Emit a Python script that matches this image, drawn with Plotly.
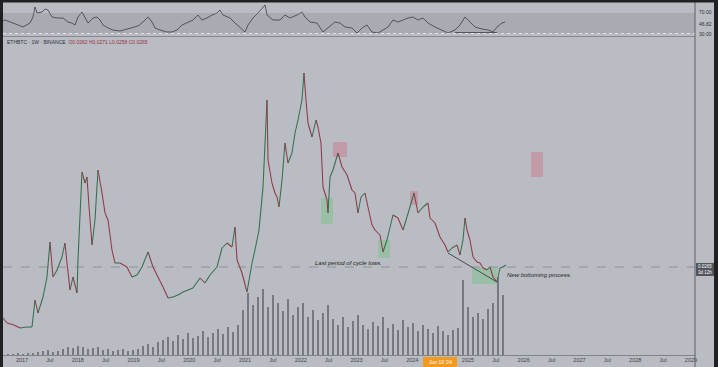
import plotly.graph_objects as go

# ---------------- data ----------------
price_years = [2016.659, 2016.731, 2016.857, 2016.964, 2017.090, 2017.179, 2017.233, 2017.287, 2017.377, 2017.448,
               2017.502, 2017.556, 2017.628, 2017.717, 2017.771, 2017.807, 2017.861, 2017.915, 2017.987, 2018.004,
               2018.076, 2018.130, 2018.166, 2018.202, 2018.256, 2018.309, 2018.363, 2018.435, 2018.489, 2018.543,
               2018.614, 2018.668, 2018.758, 2018.883, 2018.973, 2019.063, 2019.152, 2019.260, 2019.350, 2019.439,
               2019.529, 2019.619, 2019.709, 2019.798, 2019.888, 2019.978, 2020.067, 2020.193, 2020.283, 2020.372,
               2020.498, 2020.587, 2020.677, 2020.767, 2020.821, 2020.857, 2020.946, 2021.036, 2021.126, 2021.179,
               2021.251, 2021.323, 2021.395, 2021.413, 2021.484, 2021.538, 2021.574, 2021.610, 2021.664, 2021.717,
               2021.771, 2021.843, 2021.897, 2021.951, 2022.022, 2022.058, 2022.094, 2022.130, 2022.202, 2022.274,
               2022.309, 2022.363, 2022.399, 2022.471, 2022.489, 2022.525, 2022.578, 2022.668, 2022.740, 2022.830,
               2022.919, 2022.973, 2023.027, 2023.081, 2023.152, 2023.206, 2023.278, 2023.332, 2023.421, 2023.475,
               2023.547, 2023.655, 2023.744, 2023.834, 2023.906, 2023.995, 2024.031, 2024.103, 2024.193, 2024.282,
               2024.318, 2024.408, 2024.498, 2024.587, 2024.641, 2024.713, 2024.803, 2024.856, 2024.910, 2024.946,
               2024.982, 2025.036, 2025.090, 2025.161, 2025.215, 2025.269, 2025.341, 2025.395, 2025.448, 2025.520,
               2025.574, 2025.628, 2025.681]
price_close = [0.0111, 0.0096, 0.0090, 0.0081, 0.0084, 0.0084, 0.0165, 0.0126, 0.0174, 0.0234,
               0.0339, 0.0234, 0.0255, 0.0294, 0.0336, 0.0276, 0.0195, 0.0234, 0.0186, 0.0285,
               0.0549, 0.0516, 0.0534, 0.0444, 0.0330, 0.0405, 0.0555, 0.0486, 0.0426, 0.0405,
               0.0315, 0.0276, 0.0276, 0.0264, 0.0234, 0.0240, 0.0264, 0.0309, 0.0264, 0.0234,
               0.0204, 0.0171, 0.0174, 0.0180, 0.0189, 0.0195, 0.0201, 0.0231, 0.0216, 0.0240,
               0.0264, 0.0321, 0.0336, 0.0324, 0.0384, 0.0285, 0.0246, 0.0189, 0.0276, 0.0315,
               0.0375, 0.0504, 0.0765, 0.0585, 0.0516, 0.0486, 0.0474, 0.0444, 0.0525, 0.0636,
               0.0576, 0.0606, 0.0666, 0.0705, 0.0765, 0.0846, 0.0765, 0.0696, 0.0654, 0.0705,
               0.0684, 0.0636, 0.0504, 0.0465, 0.0426, 0.0534, 0.0555, 0.0606, 0.0564, 0.0540,
               0.0495, 0.0486, 0.0426, 0.0474, 0.0486, 0.0444, 0.0390, 0.0375, 0.0360, 0.0309,
               0.0345, 0.0420, 0.0411, 0.0375, 0.0414, 0.0465, 0.0486, 0.0426, 0.0444, 0.0456,
               0.0411, 0.0396, 0.0354, 0.0330, 0.0309, 0.0321, 0.0330, 0.0300, 0.0345, 0.0411,
               0.0375, 0.0345, 0.0294, 0.0279, 0.0276, 0.0261, 0.0255, 0.0264, 0.0234, 0.0219,
               0.0261, 0.0264, 0.0270]

rsi_years = [2016.659, 2016.695, 2016.839, 2017.018, 2017.143, 2017.197, 2017.233, 2017.269, 2017.359, 2017.413,
             2017.466, 2017.538, 2017.628, 2017.735, 2017.825, 2017.897, 2017.951, 2018.004, 2018.076, 2018.130,
             2018.184, 2018.274, 2018.345, 2018.399, 2018.453, 2018.543, 2018.632, 2018.758, 2018.883, 2018.991,
             2019.081, 2019.170, 2019.260, 2019.332, 2019.386, 2019.475, 2019.601, 2019.691, 2019.780, 2019.870,
             2019.960, 2020.067, 2020.157, 2020.229, 2020.318, 2020.408, 2020.498, 2020.552, 2020.605, 2020.731,
             2020.821, 2020.910, 2021.000, 2021.054, 2021.143, 2021.233, 2021.359, 2021.395, 2021.502, 2021.628,
             2021.717, 2021.807, 2021.933, 2022.022, 2022.076, 2022.166, 2022.291, 2022.399, 2022.489, 2022.614,
             2022.704, 2022.794, 2022.919, 2023.009, 2023.099, 2023.188, 2023.278, 2023.386, 2023.475, 2023.565,
             2023.655, 2023.744, 2023.834, 2023.924, 2024.013, 2024.103, 2024.193, 2024.282, 2024.408, 2024.534,
             2024.641, 2024.767, 2024.856, 2024.946, 2025.036, 2025.126, 2025.251, 2025.359, 2025.448, 2025.520,
             2025.610, 2025.664]
rsi_values = [55, 57, 51, 43, 51, 63, 83, 71, 73, 79,
              77, 63, 61, 61, 53, 51, 47, 63, 73, 61,
              51, 61, 63, 57, 47, 41, 37, 35, 39, 41,
              45, 53, 63, 53, 41, 37, 33, 33, 37, 47,
              51, 57, 67, 57, 61, 67, 71, 77, 67, 61,
              51, 41, 33, 47, 61, 71, 87, 67, 57, 57,
              67, 61, 67, 73, 63, 53, 51, 33, 41, 53,
              51, 43, 41, 31, 41, 47, 33, 31, 37, 43,
              57, 53, 57, 61, 63, 57, 61, 51, 43, 37,
              31, 37, 47, 63, 53, 43, 39, 37, 33, 43,
              51, 53]

vol_start_year = 2016.749          # first weekly-group bar
vol_step_year = 0.0897             # spacing between volume bars
volume_k = [1, 1, 2, 1, 2, 2, 3, 4, 5, 3,
            4, 6, 8, 7, 9, 8, 6, 7, 8, 5,
            6, 4, 5, 6, 4, 5, 6, 9, 11, 8,
            13, 15, 18, 14, 20, 16, 22, 17, 19, 24,
            18, 22, 26, 21, 28, 23, 30, 45, 62, 50,
            58, 66, 48, 60, 52, 44, 56, 40, 48, 52,
            38, 45, 35, 42, 50, 36, 30, 38, 28, 34,
            40, 30, 26, 33, 29, 38, 27, 31, 25, 35,
            28, 32, 24, 30, 26, 22, 29, 24, 20, 25,
            27, 75, 48, 38, 42, 36, 46, 52, 78, 60]

tick_vals = [2017, 2017.5, 2018, 2018.5, 2019, 2019.5, 2020, 2020.5, 2021, 2021.5, 2022, 2022.5,
             2023, 2023.5, 2024, 2025, 2025.5, 2026, 2026.5, 2027, 2027.5, 2028, 2028.5, 2029]
tick_text = ["2017", "Jul", "2018", "Jul", "2019", "Jul", "2020", "Jul", "2021", "Jul", "2022", "Jul",
             "2023", "Jul", "2024", "2025", "Jul", "2026", "Jul", "2027", "Jul", "2028", "Jul", "2029"]

# boxes: (x0, x1, y0, y1, kind)
boxes = [(2022.578, 2022.830, 0.0594, 0.0639, "red"),
         (2022.363, 2022.578, 0.0393, 0.0471, "green"),
         (2023.386, 2023.601, 0.0291, 0.0345, "green"),
         (2023.960, 2024.103, 0.0450, 0.0492, "red"),
         (2025.072, 2025.520, 0.0213, 0.0261, "green"),
         (2026.130, 2026.345, 0.0534, 0.0609, "red")]
trend_line = ([2024.641, 2025.520], [0.0306, 0.0219])
level_price = 0.0264
notes = [(2022.220, 0.0276, "Last period of cycle lows."),
         (2025.664, 0.0240, "New bottoming process.")]

# ---------------- figure ----------------
W, H = 718, 367
BG = "#b9bcc2"
XR = [2016.659, 2029.072]
XD = [3 / W, 695 / W]

fig = go.Figure()

# price line, coloured by direction
up_x, up_y, dn_x, dn_y = [], [], [], []
for i in range(1, len(price_close)):
    seg_x = [price_years[i - 1], price_years[i], None]
    seg_y = [price_close[i - 1], price_close[i], None]
    if price_close[i] >= price_close[i - 1]:
        up_x += seg_x; up_y += seg_y
    else:
        dn_x += seg_x; dn_y += seg_y

vol_x = [vol_start_year + i * vol_step_year for i in range(len(volume_k))]
fig.add_trace(go.Bar(x=vol_x, y=volume_k, xaxis="x", yaxis="y3", width=0.045,
                     marker=dict(color="rgba(96,99,107,0.75)", line=dict(width=0))))
fig.add_trace(go.Scatter(x=up_x, y=up_y, xaxis="x", yaxis="y2", mode="lines",
                         line=dict(color="#33704c", width=1.05), connectgaps=False))
fig.add_trace(go.Scatter(x=dn_x, y=dn_y, xaxis="x", yaxis="y2", mode="lines",
                         line=dict(color="#8e3a46", width=1.05), connectgaps=False))
fig.add_trace(go.Scatter(x=trend_line[0], y=trend_line[1], xaxis="x", yaxis="y2", mode="lines",
                         line=dict(color="#3a3d44", width=0.9)))
fig.add_trace(go.Scatter(x=rsi_years, y=rsi_values, xaxis="x", yaxis="y", mode="lines",
                         line=dict(color="#3b3e45", width=0.8)))
fig.add_trace(go.Scatter(x=[2024.767, 2025.520], y=[32, 32], xaxis="x", yaxis="y", mode="lines",
                         line=dict(color="#3b3e45", width=0.8)))

shapes = []
# rsi band
shapes.append(dict(type="rect", xref="paper", yref="y", x0=XD[0], x1=XD[1], y0=30, y1=70,
                   fillcolor="rgba(110,114,122,0.22)", line=dict(width=0), layer="below"))
shapes.append(dict(type="line", xref="paper", yref="y", x0=XD[0], x1=XD[1], y0=30, y1=30,
                   line=dict(color="rgba(235,237,242,0.8)", width=1, dash="dot")))
shapes.append(dict(type="line", xref="paper", yref="y", x0=XD[0], x1=XD[1], y0=70, y1=70,
                   line=dict(color="rgba(150,153,160,0.6)", width=0.6)))
# boxes
for x0, x1, y0, y1, kind in boxes:
    col = "rgba(205,115,135,0.45)" if kind == "red" else "rgba(110,195,130,0.42)"
    shapes.append(dict(type="rect", xref="x", yref="y2", x0=x0, x1=x1, y0=y0, y1=y1,
                       fillcolor=col, line=dict(width=0), layer="below"))
# level line
shapes.append(dict(type="line", xref="paper", yref="y2", x0=XD[0], x1=XD[1], y0=level_price, y1=level_price,
                   line=dict(color="rgba(110,112,118,0.7)", width=0.8, dash="dash")))
# frame pieces
shapes += [
    dict(type="line", xref="paper", yref="paper", x0=0, x1=XD[1], y0=1 - 36.5 / H, y1=1 - 36.5 / H,
         line=dict(color="#878a91", width=1.2)),
    dict(type="line", xref="paper", yref="paper", x0=0, x1=XD[1], y0=11.5 / H, y1=11.5 / H,
         line=dict(color="#80838a", width=1)),
    dict(type="line", xref="paper", yref="paper", x0=XD[1], x1=XD[1], y0=0, y1=1,
         line=dict(color="#5d6067", width=1)),
    dict(type="rect", xref="paper", yref="paper", x0=0, x1=3 / W, y0=0, y1=1,
         fillcolor="#1f2125", line=dict(width=0)),
    dict(type="rect", xref="paper", yref="paper", x0=714 / W, x1=1, y0=0, y1=1,
         fillcolor="#1f2125", line=dict(width=0)),
    dict(type="rect", xref="paper", yref="paper", x0=0, x1=1, y0=1 - 2.5 / H, y1=1,
         fillcolor="#1f2125", line=dict(width=0)),
    # crosshair date box
    dict(type="rect", xref="paper", yref="paper", x0=423 / W, x1=457 / W, y0=0, y1=10 / H,
         fillcolor="#f29a1f", line=dict(width=0)),
    # last price box
    dict(type="rect", xref="paper", yref="paper", x0=696 / W, x1=714 / W, y0=91 / H, y1=104 / H,
         fillcolor="#52555c", line=dict(width=0)),
]

annotations = []
for x, y, t in notes:
    annotations.append(dict(x=x, y=y, xref="x", yref="y2", text="<i>" + t + "</i>", showarrow=False,
                            xanchor="left", yanchor="middle",
                            font=dict(family="Liberation Sans", size=6, color="#1c1d20")))
annotations.append(dict(x=5 / W, y=1 - 42 / H, xref="paper", yref="paper", xanchor="left", yanchor="middle",
                        showarrow=False,
                        text="<span style='color:#2e3036'>ETHBTC · 1W · BINANCE</span>  "
                             "<span style='color:#9a3045'>O0.0262 H0.0271 L0.0258 C0.0265</span>",
                        font=dict(family="Liberation Sans", size=5)))
for yv, t in [(73, "70.00"), (49, "46.82"), (29, "30.00")]:
    annotations.append(dict(x=705 / W, y=yv, xref="paper", yref="y", text=t, showarrow=False,
                            xanchor="center", yanchor="middle",
                            font=dict(family="Liberation Sans", size=5, color="#2e3036")))
annotations.append(dict(x=440 / W, y=5 / H, xref="paper", yref="paper", text="Jun 10 '24", showarrow=False,
                        xanchor="center", yanchor="middle",
                        font=dict(family="Liberation Sans", size=5, color="#ffffff")))
annotations.append(dict(x=705 / W, y=97.5 / H, xref="paper", yref="paper", text="0.0265<br>3d 12h",
                        showarrow=False, xanchor="center", yanchor="middle",
                        font=dict(family="Liberation Sans", size=4.5, color="#ffffff")))

fig.update_layout(
    width=W, height=H, margin=dict(l=0, r=0, t=0, b=0),
    paper_bgcolor=BG, plot_bgcolor=BG, showlegend=False, bargap=0,
    xaxis=dict(domain=XD, range=XR, anchor="y2", tickvals=tick_vals, ticktext=tick_text,
               tickfont=dict(family="Liberation Sans", size=5.5, color="#3f4249"),
               showgrid=False, zeroline=False, showline=False, ticks="", automargin=False),
    yaxis=dict(domain=[1 - 36 / H, 1 - 3 / H], range=[25, 91], anchor="x", visible=False,
               showgrid=False, zeroline=False),
    yaxis2=dict(domain=[12 / H, 1 - 38 / H], range=[0, 0.0951], anchor="x", visible=False,
                showgrid=False, zeroline=False),
    yaxis3=dict(overlaying="y2", range=[0, 317], anchor="x", visible=False,
                showgrid=False, zeroline=False),
    shapes=shapes, annotations=annotations,
)

fig.write_html("out.html")
